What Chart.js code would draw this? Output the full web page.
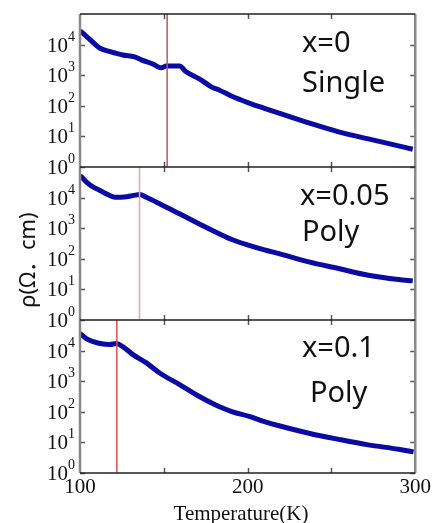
<!DOCTYPE html>
<html>
<head>
<meta charset="utf-8">
<script src="https://cdn.jsdelivr.net/npm/chart.js@4.4.1/dist/chart.umd.min.js"></script>
<style>
  html, body { margin: 0; padding: 0; background: #fff; }
  #wrap { width: 433px; height: 523px; position: relative; }
</style>
</head>
<body>
<div id="wrap"><canvas id="chart" width="433" height="523"></canvas></div>
<script>
// x=0 single crystal
const tempSingle = [100, 102, 104, 108, 112, 118, 125.5, 132.6, 136.6, 143.3, 148.5, 151.5, 159.4, 163.3, 171.2, 178.9, 183, 191, 200.9, 210, 218.7, 236.5, 254.3, 272, 290, 298.5];
const rhoSingle = [28000, 23000, 18200, 11500, 7600, 5900, 4570, 3980, 3160, 2340, 1740, 2000, 2000, 1290, 760, 400, 330, 200, 123, 83, 57.5, 27.5, 14.1, 8.3, 4.9, 3.8];

// x=0.05 poly
const tempPoly05 = [100, 102, 104, 108, 112, 116, 121.8, 127.7, 132, 135.6, 139.6, 147.5, 159.4, 171.2, 183, 191, 200.9, 210, 218.7, 236.5, 254.3, 272, 290, 298.5];
const rhoPoly05 = [52500, 41000, 31600, 22000, 17000, 13000, 10200, 10700, 11800, 12600, 10200, 6300, 2950, 1380, 660, 420, 275, 195, 148, 79, 48, 29, 21, 19];

// x=0.1 poly
const tempPoly10 = [100, 102, 104, 108, 112, 117.8, 121.8, 125.7, 131.6, 139.6, 147.5, 159.4, 171.2, 181.9, 191, 200.9, 210, 218.7, 236.5, 254.3, 272, 290, 299];
const rhoPoly10 = [36300, 29500, 24000, 19500, 17000, 15800, 17000, 13200, 7400, 3980, 1860, 776, 316, 158, 100, 71, 48, 35, 20, 12.6, 8.3, 6.0, 4.9];

// transition markers (K)
const markerTemps = [152, 135.5, 122];

const panelLabels = [["x=0", "Single"], ["x=0.05", "Poly"], ["x=0.1", "Poly"]];
const yTickExps = [0, 1, 2, 3, 4];
const xTickLabels = [100, 200, 300];

const axisIds = ["yTop", "yMid", "yBot"];
const markerColors = ["#c65454", "#eaa2a2", "#de4c4c"];

function pts(xs, ys) {
  return xs.map((x, i) => ({ x: x, y: ys[i] }));
}

const curveStyle = {
  borderColor: "#0a0aa5",
  backgroundColor: "#0a0aa5",
  borderWidth: 5,
  pointRadius: 0,
  cubicInterpolationMode: "monotone",
  fill: false,
};

const datasets = [
  Object.assign({ data: pts(tempSingle, rhoSingle), yAxisID: "yTop" }, curveStyle),
  Object.assign({ data: pts(tempPoly05, rhoPoly05), yAxisID: "yMid" }, curveStyle),
  Object.assign({ data: pts(tempPoly10, rhoPoly10), yAxisID: "yBot" }, curveStyle),
];
markerTemps.forEach((t, i) => {
  datasets.unshift({
    data: [{ x: t, y: 1 }, { x: t, y: 1e5 }],
    yAxisID: axisIds[i],
    borderColor: markerColors[i],
    borderWidth: 1.5,
    pointRadius: 0,
    fill: false,
  });
});

function yAxis() {
  return {
    type: "logarithmic",
    min: 1,
    max: 1e5,
    position: "left",
    stack: "rho",
    stackWeight: 1,
    grid: { display: false },
    border: { display: false },
    ticks: { display: false },
    afterFit: (s) => { s.width = 80; },
  };
}

const frame = {
  id: "frame",
  afterDraw(chart) {
    const ctx = chart.ctx;
    const xs = chart.scales.x;
    const left = chart.chartArea.left;
    const right = chart.chartArea.right;
    ctx.save();

    axisIds.forEach((id, p) => {
      const s = chart.scales[id];
      const top = s.top, bottom = s.bottom;

      // inward ticks
      ctx.strokeStyle = "#555";
      ctx.lineWidth = 1.5;
      ctx.beginPath();
      yTickExps.forEach((e) => {
        const y = Math.round(s.getPixelForValue(Math.pow(10, e))) + 0.5;
        ctx.moveTo(left, y); ctx.lineTo(left + 5, y);
        ctx.moveTo(right, y); ctx.lineTo(right - 5, y);
      });
      [150, 200, 250].forEach((t) => {
        const x = Math.round(xs.getPixelForValue(t)) + 0.5;
        ctx.moveTo(x, top); ctx.lineTo(x, top + 5);
        ctx.moveTo(x, bottom); ctx.lineTo(x, bottom - 5);
      });
      ctx.stroke();

      // y tick labels 10^n
      ctx.fillStyle = "#111";
      ctx.textAlign = "right";
      ctx.textBaseline = "alphabetic";
      yTickExps.forEach((e) => {
        const y = s.getPixelForValue(Math.pow(10, e));
        ctx.font = '21px "Liberation Serif"';
        ctx.fillText("10", 68, y + 7);
        ctx.font = '14px "Liberation Serif"';
        ctx.textAlign = "left";
        ctx.fillText(String(e), 68, y - 4);
        ctx.textAlign = "right";
      });

      // panel annotation
      const offs = [[302, 38, 302, 78], [300, 38, 302, 74], [302, 37, 310, 82]][p];
      ctx.font = '29px "Noto Sans"';
      ctx.textAlign = "left";
      ctx.fillStyle = "#111";
      ctx.fillText(panelLabels[p][0], offs[0], top + offs[1]);
      ctx.fillText(panelLabels[p][1], offs[2], top + offs[3]);
    });

    // frame lines
    ctx.strokeStyle = "#8a8a8a";
    ctx.lineWidth = 2.5;
    ctx.beginPath();
    ctx.moveTo(left, chart.chartArea.top); ctx.lineTo(left, chart.chartArea.bottom);
    ctx.moveTo(right, chart.chartArea.top); ctx.lineTo(right, chart.chartArea.bottom);
    ctx.stroke();
    ctx.strokeStyle = "#222";
    ctx.lineWidth = 1.5;
    ctx.beginPath();
    axisIds.forEach((id) => {
      const s = chart.scales[id];
      ctx.moveTo(left, s.top); ctx.lineTo(right, s.top);
      ctx.moveTo(left, s.bottom); ctx.lineTo(right, s.bottom);
    });
    ctx.stroke();

    // axis titles
    ctx.fillStyle = "#111";
    ctx.textAlign = "center";
    ctx.font = '21px "Liberation Serif"';
    ctx.fillText("Temperature(K)", 241, 520);

    ctx.save();
    ctx.translate(35, 260);
    ctx.rotate(-Math.PI / 2);
    ctx.font = '22px "Noto Sans", "Noto Sans CJK JP"';
    ctx.fillText("ρ(Ω．cm)", 0, 0);
    ctx.restore();

    ctx.restore();
  },
};

new Chart(document.getElementById("chart"), {
  type: "line",
  data: { datasets: datasets },
  options: {
    responsive: false,
    animation: false,
    layout: { padding: { top: 14, right: 16, left: 0, bottom: 0 } },
    plugins: { legend: { display: false }, tooltip: { enabled: false } },
    scales: {
      x: {
        type: "linear",
        min: 100,
        max: 300,
        grid: { display: false, drawTicks: false },
        border: { display: false },
        ticks: {
          stepSize: 50,
          autoSkip: false,
          maxRotation: 0,
          padding: 2,
          color: "#111",
          font: { family: "Liberation Serif", size: 21 },
          callback: (v) => (xTickLabels.includes(v) ? String(v) : ""),
        },
        afterFit: (s) => { s.height = 50; },
      },
      // stacked axes are laid out bottom-up in config order
      yBot: yAxis(),
      yMid: yAxis(),
      yTop: yAxis(),
    },
  },
  plugins: [frame],
});
</script>
</body>
</html>
